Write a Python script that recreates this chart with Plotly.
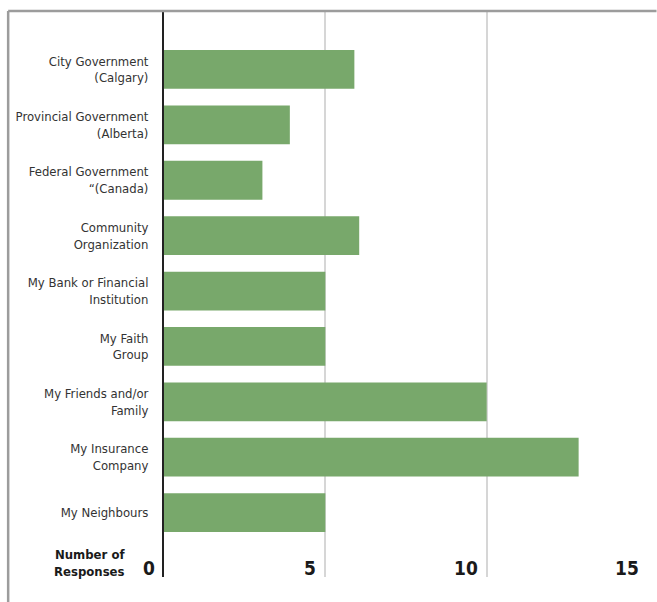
import plotly.graph_objects as go

# Survey: who respondents would turn to
categories = [
    "City Government<br>(Calgary)",
    "Provincial Government<br>(Alberta)",
    "Federal Government<br>\u201c(Canada)",
    "Community<br>Organization",
    "My Bank or Financial<br>Institution",
    "My Faith<br>Group",
    "My Friends and/or<br>Family",
    "My Insurance<br>Company",
    "My Neighbours",
]
responses = [5.9, 3.9, 3.05, 6.05, 5.0, 5.0, 10.0, 12.85, 5.0]
tick_values = [0, 5, 10, 15]
tick_labels = ["0", "5", "10", "15"]

W, H = 657, 602
ML, MR, MT, MB = 164, 8.5, 11, 25
pw = W - ML - MR
ph = H - MT - MB

BAR = "#78a86b"
TXT = "#333333"
FONT = "DejaVu Sans Condensed, Roboto, sans-serif"

fig = go.Figure(
    go.Bar(
        x=responses,
        y=categories,
        orientation="h",
        marker=dict(color=BAR, line=dict(width=0)),
        width=0.7,
        hoverinfo="x+y",
    )
)

fig.update_layout(
    width=W,
    height=H,
    margin=dict(l=ML, r=MR, t=MT, b=MB, pad=0),
    paper_bgcolor="white",
    plot_bgcolor="white",
    showlegend=False,
    font=dict(family=FONT, size=13, color=TXT),
    xaxis=dict(
        range=[0, 15],
        tickvals=tick_values,
        showticklabels=False,
        showgrid=True,
        gridcolor="#d6d6d6",
        gridwidth=2,
        zeroline=False,
        showline=False,
        ticks="",
        fixedrange=True,
    ),
    yaxis=dict(
        categoryorder="array",
        categoryarray=categories,
        range=[9.164, -1.056],
        showline=True,
        linecolor="#222222",
        linewidth=2,
        showgrid=False,
        zeroline=False,
        ticks="",
        ticklabelstandoff=11,
        tickfont=dict(family=FONT, size=13, color=TXT),
        fixedrange=True,
    ),
)

fx = lambda px: (px - ML) / pw
fy = lambda py: 1 - (py - MT) / ph

# Value-axis labels sit inside the plot, just left of each gridline
for v, t in zip(tick_values, tick_labels):
    fig.add_annotation(
        text=f"<b>{t}</b>",
        xref="x", yref="paper",
        x=v, y=fy(581),
        xanchor="right", yanchor="bottom",
        xshift=-7,
        showarrow=False,
        font=dict(family=FONT, size=19, color="#1a1a1a"),
    )

# Axis caption at lower left
fig.add_annotation(
    text="<b>Number of<br>Responses</b>",
    xref="paper", yref="paper",
    x=fx(127), y=fy(581),
    xanchor="right", yanchor="bottom",
    align="right",
    showarrow=False,
    font=dict(family=FONT, size=13, color="#1a1a1a"),
)

# Frame lines along the top and left edges
fig.add_shape(type="line", xref="paper", yref="paper",
              x0=fx(8), x1=fx(W), y0=fy(11), y1=fy(11),
              line=dict(color="#9c9c9c", width=2.5), layer="above")
fig.add_shape(type="line", xref="paper", yref="paper",
              x0=fx(8), x1=fx(8), y0=fy(11), y1=fy(H),
              line=dict(color="#9c9c9c", width=2.5), layer="above")

fig.write_html("out.html")
